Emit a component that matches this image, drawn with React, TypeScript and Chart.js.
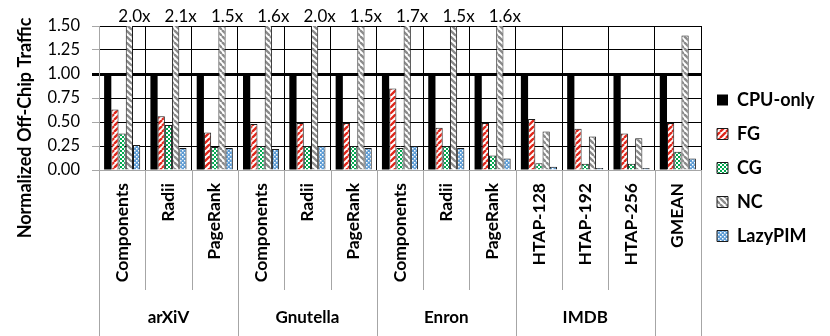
import React, { useEffect, useRef } from 'react';
import { Chart, registerables } from 'chart.js';

Chart.register(...registerables);

const categories = [
  'Components', 'Radii', 'PageRank',
  'Components', 'Radii', 'PageRank',
  'Components', 'Radii', 'PageRank',
  'HTAP-128', 'HTAP-192', 'HTAP-256',
  'GMEAN',
];
const groupNames = ['arXiV', 'Gnutella', 'Enron', 'IMDB', ''];
const groupSizes = [3, 3, 3, 3, 1];
const seriesNames = ['CPU-only', 'FG', 'CG', 'NC', 'LazyPIM'];

const cpuOnly = [1, 1, 1, 1, 1, 1, 1, 1, 1, 1, 1, 1, 1];
const fg = [0.63, 0.56, 0.39, 0.48, 0.49, 0.49, 0.85, 0.44, 0.49, 0.53, 0.43, 0.38, 0.49];
const cg = [0.38, 0.47, 0.24, 0.25, 0.25, 0.25, 0.23, 0.25, 0.15, 0.07, 0.065, 0.065, 0.19];
const nc = [2.0, 2.1, 1.5, 1.6, 2.0, 1.5, 1.7, 1.5, 1.6, 0.40, 0.35, 0.33, 1.40];
const lazyPim = [0.26, 0.23, 0.23, 0.22, 0.25, 0.23, 0.25, 0.23, 0.12, 0.035, 0.02, 0.02, 0.12];

const yMin = 0;
const yMax = 1.5;
const yStep = 0.25;
const yTitle = 'Normalized Off-Chip Traffic';

const FONT = 'Lato, "Open Sans", "DejaVu Sans", sans-serif';

function makePattern(kind: string): CanvasPattern | string {
  const c = document.createElement('canvas');
  const ctx = c.getContext('2d');
  if (!ctx) return '#888';
  if (kind === 'fg' || kind === 'nc') {
    const s = 6;
    c.width = s; c.height = s;
    ctx.fillStyle = '#ffffff';
    ctx.fillRect(0, 0, s, s);
    ctx.strokeStyle = kind === 'fg' ? '#e0261a' : '#8a8a8a';
    ctx.lineWidth = 2.3;
    for (const o of [-s, 0, s]) {
      ctx.beginPath();
      if (kind === 'fg') { ctx.moveTo(o, s); ctx.lineTo(o + s, 0); }
      else { ctx.moveTo(o, 0); ctx.lineTo(o + s, s); }
      ctx.stroke();
    }
  } else if (kind === 'cg') {
    c.width = 4; c.height = 4;
    ctx.fillStyle = '#00a84f';
    ctx.fillRect(0, 0, 4, 4);
    ctx.fillStyle = '#ffffff';
    ctx.fillRect(0, 0, 2, 2);
    ctx.fillRect(2, 2, 2, 2);
  } else {
    c.width = 4; c.height = 4;
    ctx.fillStyle = '#5b9bd5';
    ctx.fillRect(0, 0, 4, 4);
    ctx.fillStyle = '#ffffff';
    ctx.fillRect(0, 0, 1.5, 1.5);
    ctx.fillRect(2, 2, 1.5, 1.5);
  }
  return ctx.createPattern(c, 'repeat') || '#888';
}

const PLOT_LEFT = 99;
const PLOT_RIGHT = 701;
const PLOT_TOP = 26;
const PLOT_BOTTOM = 170;
const W = 830;
const H = 336;
const PAD_BOTTOM = 26;

export default function App() {
  const ref = useRef<HTMLCanvasElement | null>(null);

  useEffect(() => {
    const canvas = ref.current;
    if (!canvas) return;

    const legendFontSize = 18;
    const legendBox = 11;
    const legendPad = 16;
    const mctx = document.createElement('canvas').getContext('2d')!;
    mctx.font = `bold ${legendFontSize}px ${FONT}`;
    const maxText = Math.max(...seriesNames.map((n) => mctx.measureText(n).width));
    const legendWidth = legendPad + legendBox + legendFontSize / 2 + maxText + 10;
    const padRight = Math.max(0, W - PLOT_RIGHT - legendWidth);

    const overlay = {
      id: 'overlay',
      afterDraw(chart: any) {
        const ctx = chart.ctx;
        const area = chart.chartArea;
        const n = categories.length;
        const cw = (area.right - area.left) / n;
        const groupBounds = new Set<number>();
        let acc = 0;
        groupBounds.add(0);
        for (const s of groupSizes) { acc += s; groupBounds.add(acc); }
        ctx.save();
        ctx.strokeStyle = '#a6a6a6';
        ctx.lineWidth = 1;
        for (let k = 0; k <= n; k++) {
          const x = Math.round(area.left + k * cw) + 0.5;
          ctx.beginPath();
          ctx.moveTo(x, area.bottom);
          ctx.lineTo(x, groupBounds.has(k) ? H : 290);
          ctx.stroke();
        }
        // group labels
        ctx.fillStyle = '#000';
        ctx.font = `bold 17px ${FONT}`;
        ctx.textAlign = 'center';
        ctx.textBaseline = 'middle';
        let start = 0;
        groupNames.forEach((g, gi) => {
          const end = start + groupSizes[gi];
          const cx = area.left + ((start + end) / 2) * cw;
          if (g) ctx.fillText(g, cx, 318);
          start = end;
        });
        // y title
        ctx.save();
        ctx.translate(25, 128);
        ctx.rotate(-Math.PI / 2);
        ctx.font = `bold 18px ${FONT}`;
        ctx.fillText(yTitle, 0, 0);
        ctx.restore();
        // NC overflow labels
        const meta = chart.getDatasetMeta(3);
        ctx.font = `17px ${FONT}`;
        ctx.textBaseline = 'alphabetic';
        nc.forEach((v, i) => {
          if (v >= yMax) {
            const el = meta.data[i];
            ctx.fillText(v.toFixed(1) + 'x', el.x + 5, 22);
          }
        });
        ctx.restore();
      },
    };

    const border = '#1a1a1a';
    const chart = new Chart(canvas, {
      type: 'bar',
      data: {
        labels: categories,
        datasets: [
          { label: seriesNames[0], data: cpuOnly, backgroundColor: '#000000', borderColor: '#000000', borderWidth: 0 },
          { label: seriesNames[1], data: fg, backgroundColor: makePattern('fg') as any, borderColor: border, borderWidth: 1 },
          { label: seriesNames[2], data: cg, backgroundColor: makePattern('cg') as any, borderColor: border, borderWidth: 1 },
          { label: seriesNames[3], data: nc, backgroundColor: makePattern('nc') as any, borderColor: border, borderWidth: 1 },
          { label: seriesNames[4], data: lazyPim, backgroundColor: makePattern('lazy') as any, borderColor: border, borderWidth: 1 },
        ],
      },
      options: {
        responsive: false,
        animation: false,
        layout: { padding: { left: 0, top: PLOT_TOP, bottom: PAD_BOTTOM, right: padRight } },
        datasets: { bar: { categoryPercentage: 0.78, barPercentage: 1.0 } },
        plugins: {
          tooltip: { enabled: false },
          title: { display: false },
          legend: {
            position: 'right',
            align: 'center',
            labels: {
              boxWidth: legendBox,
              boxHeight: legendBox,
              padding: legendPad,
              color: '#000',
              font: { family: FONT, size: legendFontSize, weight: 'bold' },
            },
          },
        },
        scales: {
          x: {
            offset: true,
            grid: {
              offset: true,
              color: '#000',
              lineWidth: 1,
              drawTicks: false,
            },
            border: { color: '#a6a6a6' },
            ticks: {
              autoSkip: false,
              minRotation: 90,
              maxRotation: 90,
              padding: 13,
              color: '#000',
              font: { family: FONT, size: 17.5, weight: 'bold' },
            },
            afterFit(scale: any) { scale.height = H - PAD_BOTTOM - PLOT_BOTTOM; },
          },
          y: {
            min: yMin,
            max: yMax,
            ticks: {
              stepSize: yStep,
              color: '#000',
              padding: 12,
              font: { family: FONT, size: 16.5 },
              callback: (v: any) => Number(v).toFixed(2),
            },
            grid: {
              color: (c: any) => (c.tick && c.tick.value === 0 ? '#a6a6a6' : '#000'),
              lineWidth: (c: any) => (c.tick && c.tick.value === 1 ? 3 : 1),
              tickColor: (c: any) => (c.tick && c.tick.value === 1 ? '#000' : '#a6a6a6'),
              tickLength: 7,
            },
            border: { color: '#a6a6a6' },
            afterFit(scale: any) { scale.width = PLOT_LEFT; },
          },
        },
      },
      plugins: [overlay],
    } as any);

    return () => chart.destroy();
  }, []);

  return (
    <div style={{ position: 'absolute', left: 0, top: 0, width: W, height: H, background: '#fff' }}>
      <canvas ref={ref} width={W} height={H} style={{ display: 'block' }} />
    </div>
  );
}
